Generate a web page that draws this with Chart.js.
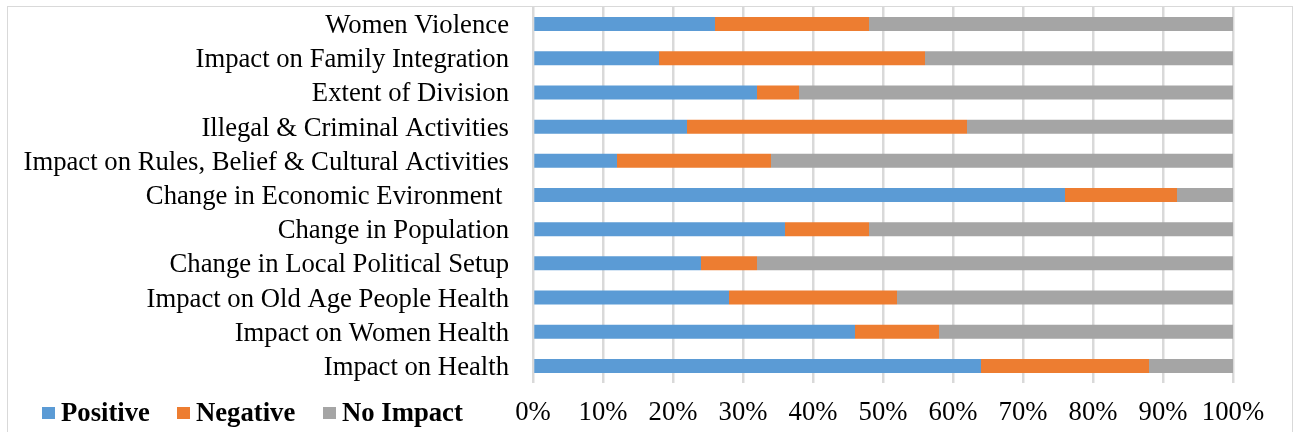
<!DOCTYPE html>
<html>
<head>
<meta charset="utf-8">
<script src="https://cdn.jsdelivr.net/npm/chart.js@4"></script>
<style>
    html, body { margin: 0; padding: 0; background: #fff; overflow: hidden; }
    #wrap { position: relative; width: 1294px; height: 432px; }
    #frame { position: absolute; left: 7px; top: 6px; width: 1284px; height: 500px; border: 1px solid #d9d9d9; }
    canvas { position: absolute; left: 0; top: 0; }
    #legend { position: absolute; top: 397px; left: 0; font: bold 26.7px "Liberation Serif", serif; color: #000; }
    .legend-item { position: absolute; white-space: nowrap; display: flex; align-items: center; }
    .legend-color { display: inline-block; width: 13px; height: 12px; margin-right: 6px; }
</style>
</head>
<body>
<div id="wrap">
    <div id="frame"></div>
    <canvas id="barChart" width="1294" height="432"></canvas>
    <div id="legend"></div>
</div>
<script>
// --- DATA ---
const categories = [
    "Women Violence",
    "Impact on Family Integration",
    "Extent of Division",
    "Illegal & Criminal Activities",
    "Impact on Rules, Belief & Cultural Activities",
    "Change in Economic Evironment ",
    "Change in Population",
    "Change in Local Political Setup",
    "Impact on Old Age People Health",
    "Impact on Women Health",
    "Impact on Health"
];
const positive = [26, 18, 32, 22, 12, 76, 36, 24, 28, 46, 64];
const negative = [22, 38, 6, 40, 22, 16, 12, 8, 24, 12, 24];
const noImpact = [52, 44, 62, 38, 66, 8, 52, 68, 48, 42, 12];
const seriesNames = ["Positive", "Negative", "No Impact"];
const tickValues = [0, 10, 20, 30, 40, 50, 60, 70, 80, 90, 100];

const chartColors = ['#5b9bd5', '#ed7d31', '#a5a5a5'];
const serif = '"Liberation Serif", "Times New Roman", serif';

const seriesData = [positive, negative, noImpact];

const ctx = document.getElementById('barChart').getContext('2d');
new Chart(ctx, {
    type: 'bar',
    data: {
        labels: categories,
        datasets: seriesNames.map((name, i) => ({
            label: name,
            data: seriesData[i],
            backgroundColor: chartColors[i],
            borderWidth: 0,
            barPercentage: 0.41,
            categoryPercentage: 1
        }))
    },
    options: {
        indexAxis: 'y',
        responsive: false,
        animation: false,
        devicePixelRatio: 1,
        layout: { padding: { top: 7, right: 61, left: 0, bottom: 0 } },
        plugins: {
            legend: { display: false },
            tooltip: { enabled: false }
        },
        scales: {
            x: {
                stacked: true,
                min: 0,
                max: 100,
                afterBuildTicks: (scale) => { scale.ticks = tickValues.map(v => ({ value: v })); },
                afterFit: (scale) => { scale.height = 49; },
                grid: { color: '#d9d9d9', lineWidth: 2.5, drawTicks: false },
                border: { display: false },
                ticks: {
                    padding: 14,
                    color: '#000',
                    font: { family: serif, size: 26.7 },
                    callback: (v) => v + '%'
                }
            },
            y: {
                stacked: true,
                afterFit: (scale) => {
                    scale.width = 533;
                    scale.paddingTop = 0;
                    scale.paddingBottom = 0;
                },
                grid: { display: false, drawTicks: false },
                border: { display: false },
                ticks: {
                    autoSkip: false,
                    padding: 24,
                    labelOffset: 2,
                    color: '#000',
                    font: { family: serif, size: 26.7 }
                }
            }
        }
    }
});

// --- CUSTOM HTML LEGEND ---
const legendPos = [42, 177, 323];
document.getElementById('legend').innerHTML = seriesNames.map((name, i) => `
    <div class="legend-item" style="left:${legendPos[i]}px;">
        <span class="legend-color" style="background-color:${chartColors[i]};"></span>
        <span>${name}</span>
    </div>
`).join('');
</script>
</body>
</html>
